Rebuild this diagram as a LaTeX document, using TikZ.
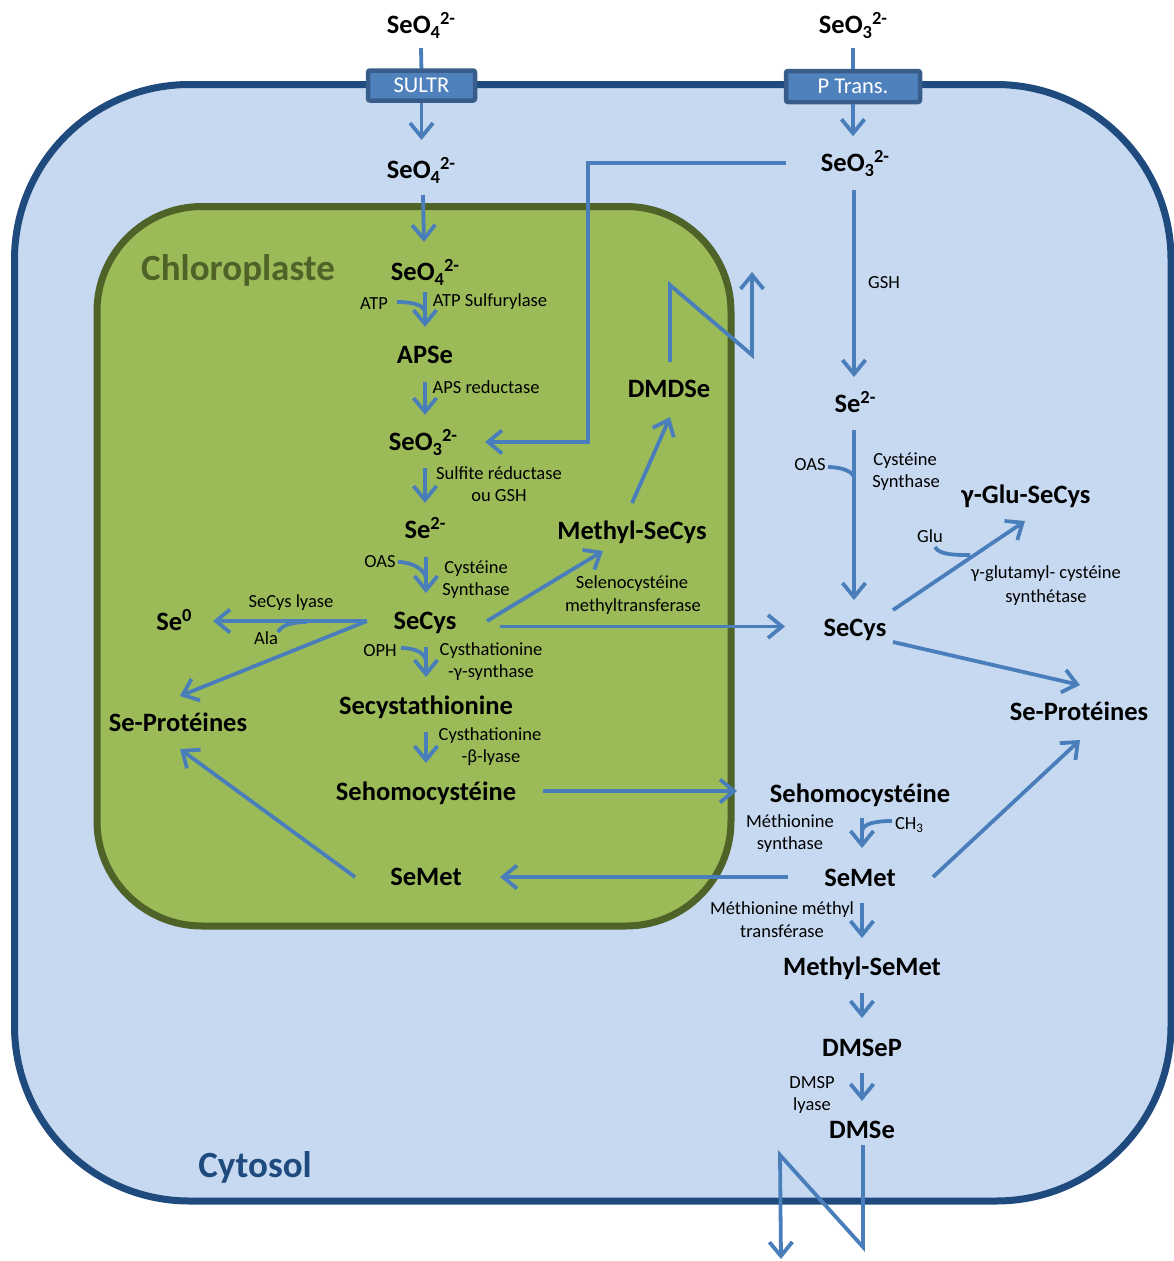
\documentclass[tikz,border=0pt]{standalone}
\usepackage{fontspec}
\setmainfont{Carlito}
\usetikzlibrary{arrows.meta,calc}
\definecolor{arrowc}{HTML}{4A7EBB}
\definecolor{cytofill}{HTML}{C6D9F1}
\definecolor{cytoline}{HTML}{1F4A7E}
\definecolor{chlfill}{HTML}{9BBB59}
\definecolor{chlline}{HTML}{4F6228}
\definecolor{boxfill}{HTML}{4F81BD}
\definecolor{boxline}{HTML}{385D8A}
\newcommand\chemsub[1]{\raisebox{-5pt}{\fontsize{18.5}{18}\selectfont #1}}
\newcommand\chemsup[1]{\raisebox{9pt}{\fontsize{18.5}{18}\selectfont #1}}
\newcommand\smallsub[1]{\raisebox{-3pt}{\fontsize{13}{13}\selectfont #1}}
\begin{document}
\begin{tikzpicture}[x=1pt,y=-1pt,
 big/.style={font=\fontsize{26.5}{30}\selectfont\bfseries, inner sep=0pt, anchor=base},
 lab/.style={font=\fontsize{18.5}{22}\selectfont, inner sep=0pt, anchor=base},
 arr/.style={draw=arrowc, line width=3.8pt, -{Straight Barb[length=14pt,width=23pt]}},
 ln/.style={draw=arrowc, line width=3.8pt},
 title/.style={font=\fontsize{37}{40}\selectfont\bfseries, inner sep=0pt, anchor=base},
 transp/.style={draw=boxline, fill=boxfill, line width=4.5pt, rounded corners=2pt, text=white, font=\fontsize{22.5}{24}\selectfont, inner sep=0pt}
]
\useasboundingbox (0,0) rectangle (1174,1261);
% compartments
\draw[cytoline, fill=cytofill, line width=7pt, rounded corners=175pt] (14.5,84.5) rectangle (1171,1201);
\draw[chlline, fill=chlfill, line width=7pt, rounded corners=105pt] (97,206.5) rectangle (731,926);
\node[title, text=chlline] (chl) at (238,280) {Chloroplaste};
\node[title, text=cytoline] (cyt) at (255,1177) {Cytosol};

% top column nodes
\node[big] (tSeO4) at (421,33) {SeO\chemsub{4}\chemsup{2-}};
\node[big] (tSeO3) at (853,33) {SeO\chemsub{3}\chemsup{2-}};
\node[big] (cSeO4) at (421,178) {SeO\chemsub{4}\chemsup{2-}};
\node[big] (cSeO3) at (855,171) {SeO\chemsub{3}\chemsup{2-}};

% chloroplast nodes
\node[big] (kSeO4) at (425,280) {SeO\chemsub{4}\chemsup{2-}};
\node[big] (APSe) at (425,363) {APSe};
\node[big] (kSeO3) at (423,450) {SeO\chemsub{3}\chemsup{2-}};
\node[big] (kSe2) at (425,538) {Se\chemsup{2-}};
\node[big] (kSeCys) at (425,629) {SeCys};
\node[big] (Se0) at (174,630) {Se\chemsup{0}};
\node[big] (kSeProt) at (178,731) {Se-Protéines};
\node[big] (MeSeCys) at (632,539) {Methyl-SeCys};
\node[big] (DMDSe) at (669,397) {DMDSe};
\node[big] (Secyst) at (426,714) {Secystathionine};
\node[big] (kSehomo) at (426,800) {Sehomocystéine};
\node[big] (kSeMet) at (426,885) {SeMet};

% cytosol nodes
\node[big] (cSe2) at (855,412) {Se\chemsup{2-}};
\node[big] (cSeCys) at (855,636) {SeCys};
\node[big] (GluSeCys) at (1026,503) {γ-Glu-SeCys};
\node[big] (cSeProt) at (1079,720) {Se-Protéines};
\node[big] (cSehomo) at (860,802) {Sehomocystéine};
\node[big] (cSeMet) at (860,886) {SeMet};
\node[big] (MeSeMet) at (862,975) {Methyl-SeMet};
\node[big] (DMSeP) at (862,1056) {DMSeP};
\node[big] (DMSe) at (862,1138) {DMSe};

% small labels
\node[lab] (ATP) at (374,309) {ATP};
\node[lab] (ATPS) at (490,306) {ATP Sulfurylase};
\node[lab] (APSr) at (486,393) {APS reductase};
\node[lab] (SulfR1) at (499,479) {Sulfite réductase};
\node[lab] (SulfR2) at (499,501) {ou GSH};
\node[lab] (kOAS) at (380,567) {OAS};
\node[lab] (kCS1) at (476,573) {Cystéine};
\node[lab] (kCS2) at (476,595) {Synthase};
\node[lab] (lyase) at (291,607) {SeCys lyase};
\node[lab] (Ala) at (266,644) {Ala};
\node[lab] (OPH) at (380,656) {OPH};
\node[lab] (CGS1) at (491,655) {Cysthationine};
\node[lab] (CGS2) at (491,677) {-γ-synthase};
\node[lab] (CBL1) at (490,740) {Cysthationine};
\node[lab] (CBL2) at (491,762) {-β-lyase};
\node[lab] (SMT1) at (632,588) {Selenocystéine};
\node[lab] (SMT2) at (633,611) {methyltransferase};
\node[lab] (GSH) at (884,288) {GSH};
\node[lab] (cOAS) at (810,470) {OAS};
\node[lab] (cCS1) at (905,465) {Cystéine};
\node[lab] (cCS2) at (906,487) {Synthase};
\node[lab] (Glu) at (930,542) {Glu};
\node[lab] (GGCS1) at (1046,578) {γ-glutamyl- cystéine};
\node[lab] (GGCS2) at (1046,602) {synthétase};
\node[lab] (MS1) at (790,827) {Méthionine};
\node[lab] (MS2) at (790,849) {synthase};
\node[lab] (CH3) at (909,829) {CH\smallsub{3}};
\node[lab] (MMT1) at (782,914) {Méthionine méthyl};
\node[lab] (MMT2) at (782,937) {transférase};
\node[lab] (DMSP1) at (812,1088) {DMSP};
\node[lab] (DMSP2) at (812,1110) {lyase};

% transporters
\draw[ln] ($(tSeO4.base)+(0,15)$) -- (421.5,72);
\draw[ln] ($(tSeO3.base)+(0,15)$) -- (853,72);
\node[transp, minimum width=107pt, minimum height=30pt] (sultr) at (421.5,85.5) {SULTR};
\node[transp, minimum width=134pt, minimum height=31pt] (ptrans) at (853,86.5) {P Trans.};
\draw[arr] (sultr.south) -- ($(cSeO4.base)+(0.5,-38)$);
\draw[arr] (ptrans.south) -- ($(ptrans.south)+(0,32)$);

% chloroplast main column
\draw[arr] ($(cSeO4.base)+(2,17)$) -- ($(kSeO4.base)+(-1,-38)$);
\draw[arr] ($(kSeO4.base)+(0,12)$) -- ($(APSe.base)+(0,-36)$);
\draw[ln] ($(ATP.base)+(23,-7)$) .. controls +(16,0) and +(0,-8) .. ($(kSeO4.base)+(0,33)$);
\draw[arr] ($(APSe.base)+(0,19)$) -- ($(APSe.base)+(0,52)$);
\draw[arr] ($(kSeO3.base)+(2,18)$) -- ($(kSe2.base)+(0,-35)$);
\draw[arr] ($(kSe2.base)+(1,19)$) -- ($(kSeCys.base)+(1,-36)$);
\draw[ln] ($(kOAS.base)+(18,-5)$) .. controls +(16,0) and +(0,-8) .. ($(kSeCys.base)+(1,-50)$);
\draw[arr] ($(kSeCys.base)+(1,18)$) -- ($(Secyst.base)+(0,-37)$);
\draw[ln] ($(OPH.base)+(21,-8)$) .. controls +(16,0) and +(0,-8) .. ($(kSeCys.base)+(1,33)$);
\draw[arr] ($(Secyst.base)+(0,18)$) -- ($(kSehomo.base)+(0,-37)$);

% chloroplast side branches
\draw[arr] ($(kSeCys.base)+(-58,-8)$) -- ($(Se0.base)+(39,-9)$);
\draw[arr] ($(kSeCys.base)+(-58,-8)$) -- ($(kSeProt.base)+(2,-35)$);
\draw[ln] ($(Ala.base)+(12,-12)$) .. controls +(4,-8) and +(-12,0) .. ($(Ala.base)+(41,-22)$);
\draw[arr] ($(kSeCys.base)+(62,-8)$) -- ($(MeSeCys.base)+(-29,12)$);
\draw[arr] ($(kSeCys.base)+(75,-2.5)$) -- ($(cSeCys.base)+(-70,-9.5)$);
\draw[arr] ($(MeSeCys.base)+(0,-36)$) -- ($(DMDSe.base)+(1,20)$);
\draw[arr] ($(DMDSe.base)+(1,-35)$) -- ++(0,-77) -- ++(82,70) -- ++(0,-83);
\draw[arr] ($(kSehomo.base)+(117,-9)$) -- ($(cSehomo.base)+(-123,-11)$);
\draw[arr] ($(cSeMet.base)+(-72,-9)$) -- ($(kSeMet.base)+(74,-8)$);
\draw[arr] ($(kSeMet.base)+(-71,-8)$) -- ($(kSeProt.base)+(2,18)$);
\draw[arr, rounded corners=0pt] ($(cSeO3.base)+(-69,-8)$) -- ++(-198,0) |- ($(kSeO3.base)+(62,-8)$);

% cytosol column
\draw[arr] ($(cSeO3.base)+(-1,19)$) -- ($(cSe2.base)+(-1,-35)$);
\draw[arr] ($(cSe2.base)+(-1,18)$) -- ($(cSeCys.base)+(-1,-36)$);
\draw[ln] ($(cOAS.base)+(18,-3)$) .. controls +(14,0) and +(0,-6) .. ($(cSe2.base)+(-1,66)$);
\draw[arr] ($(cSeCys.base)+(38,-26)$) -- ($(GluSeCys.base)+(-1,18)$);
\draw[ln] ($(Glu.base)+(5,5)$) .. controls +(4,8) and +(-14,0) .. ($(Glu.base)+(40,13)$);
\draw[arr] ($(cSeCys.base)+(38,6)$) -- ($(cSeProt.base)+(1,-35)$);
\draw[arr] ($(cSehomo.base)+(2,16)$) -- ($(cSeMet.base)+(2,-38)$);
\draw[ln] ($(CH3.base)+(-17,-8)$) .. controls +(-18,0) and +(0,-8) .. ($(cSehomo.base)+(2,30)$);
\draw[arr] ($(cSeMet.base)+(73,-9)$) -- ($(cSeProt.base)+(1,20)$);
\draw[arr] ($(cSeMet.base)+(2,17)$) -- ($(MeSeMet.base)+(0,-37)$);
\draw[arr] ($(MeSeMet.base)+(0,18)$) -- ($(DMSeP.base)+(0,-38)$);
\draw[arr] ($(DMSeP.base)+(0,17)$) -- ($(DMSe.base)+(0,-37)$);
\draw[arr] ($(DMSe.base)+(1,7)$) -- ++(0,102) -- ++(-83,-92) -- ++(1,104);
\end{tikzpicture}
\end{document}
